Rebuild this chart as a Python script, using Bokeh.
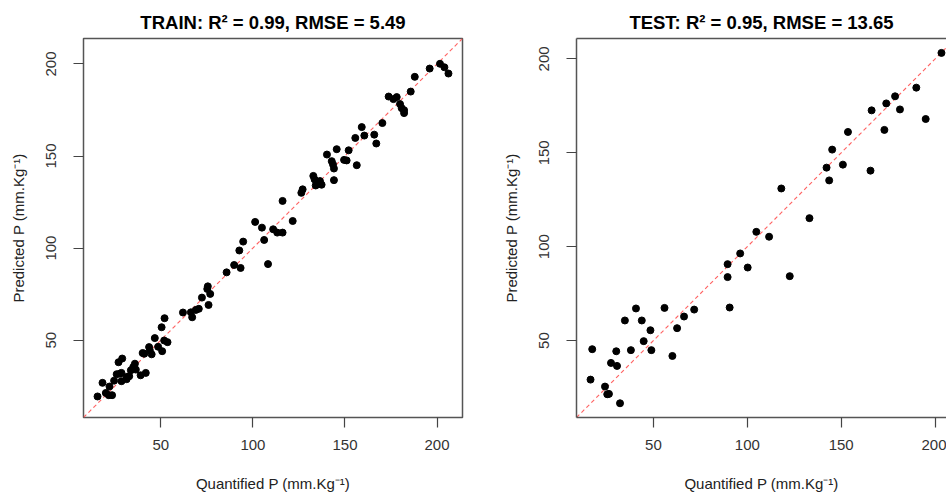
import numpy as np
from bokeh.plotting import figure
from bokeh.layouts import row
from bokeh.models import FixedTicker, Range1d, LinearAxis
from bokeh.embed import file_html
from bokeh.resources import INLINE

# ---- data ----
train_obs = [15.6, 18.3, 20.1, 22.1, 21.7, 23.5, 24.6, 26.0, 27.0, 29.0,
             27.7, 28.6, 28.6, 31.4, 31.4, 32.8, 33.7, 35.0, 36.4, 35.9,
             39.0, 41.8, 40.1, 41.0, 43.6, 44.0, 45.0, 46.7, 48.5, 50.7,
             50.4, 52.0, 51.8, 53.6, 62.0, 66.3, 67.0, 69.0, 70.6, 72.3,
             75.2, 75.5, 76.8, 75.9, 85.7, 89.8, 92.6, 93.3, 94.7, 101.2,
             104.9, 106.1, 108.2, 111.0, 113.2, 116.1, 116.1, 121.6, 126.3, 127.0,
             132.8, 133.5, 134.1, 136.4, 137.3, 140.2, 142.8, 143.5, 144.0, 144.0,
             145.5, 149.5, 150.9, 152.0, 156.4, 155.6, 159.1, 160.5, 165.9, 167.0,
             170.3, 173.7, 176.3, 178.1, 179.9, 180.8, 182.1, 182.1, 185.7, 187.9,
             196.0, 201.6, 204.0, 206.2]
train_pred = [19.4, 26.8, 21.3, 24.8, 20.1, 20.1, 28.0, 31.5, 38.0, 40.0,
              31.8, 27.7, 32.2, 30.0, 28.8, 30.4, 33.6, 35.4, 34.0, 37.2,
              30.9, 32.2, 43.0, 42.6, 46.2, 44.4, 42.3, 51.1, 46.4, 44.0,
              57.0, 61.9, 49.8, 48.9, 65.0, 65.1, 62.4, 66.4, 67.0, 73.1,
              77.8, 79.2, 75.1, 69.1, 86.8, 90.8, 98.7, 89.2, 103.5, 114.2,
              111.1, 104.4, 91.3, 110.2, 108.4, 108.4, 125.6, 114.7, 130.0, 131.9,
              139.2, 137.3, 134.0, 136.4, 134.4, 150.8, 147.2, 145.4, 143.2, 136.9,
              153.7, 147.9, 147.6, 153.1, 145.0, 159.8, 165.7, 161.1, 161.6, 156.8,
              167.9, 182.3, 180.9, 182.0, 178.2, 176.0, 174.9, 173.3, 185.0, 193.0,
              197.5, 200.1, 198.2, 194.8]

test_obs = [16.5, 17.4, 24.2, 25.4, 26.3, 27.4, 30.2, 30.6, 32.2, 34.8,
            38.0, 40.7, 43.8, 44.8, 48.4, 48.9, 55.9, 60.1, 62.6, 66.3,
            71.7, 89.5, 89.5, 90.6, 96.2, 100.2, 104.8, 111.6, 118.1, 122.6,
            133.1, 142.2, 143.6, 145.2, 150.9, 153.6, 165.6, 166.2, 173.0, 174.0,
            178.7, 181.3, 190.0, 195.0, 203.4]
test_pred = [29.2, 45.4, 25.5, 21.4, 21.6, 38.1, 44.3, 36.5, 16.6, 60.7,
             44.9, 67.1, 60.7, 49.7, 55.5, 44.9, 67.4, 41.8, 56.6, 62.8,
             66.5, 90.7, 83.8, 67.6, 96.4, 88.9, 107.9, 105.3, 131.0, 84.3,
             115.2, 142.1, 135.3, 151.7, 143.7, 161.1, 140.5, 172.6, 162.2, 176.3,
             180.1, 173.1, 184.7, 168.0, 203.2]

tick_values = [50, 100, 150, 200]
train_title = "TRAIN: R\u00b2 = 0.99, RMSE = 5.49"
test_title = "TEST: R\u00b2 = 0.95, RMSE = 13.65"
x_label = "Quantified P (mm.Kg\u207b\u00b9)"
y_label = "Predicted P (mm.Kg\u207b\u00b9)"

FONT = "Liberation Sans"
FRAME = 379
HEIGHT = 494
BOX = "#555555"
DASH_ON_PX, DASH_OFF_PX = 4.0, 3.0


def lims(obs, pred):
    lo = min(min(obs), min(pred))
    hi = max(max(obs), max(pred))
    d = (hi - lo) * 0.04
    return lo - d, hi + d


def make_panel(obs, pred, title, width, b_left, b_right, clip_right):
    lo, hi = lims(obs, pred)
    frame_w = width - b_left - b_right
    x_hi = lo + (hi - lo) * frame_w / FRAME
    p = figure(width=width, height=HEIGHT, output_backend="svg", toolbar_location=None,
               x_range=Range1d(lo, x_hi), y_range=Range1d(lo, hi),
               min_border_left=b_left, min_border_right=b_right,
               min_border_top=38, min_border_bottom=HEIGHT - 38 - FRAME)
    p.grid.visible = False
    p.background_fill_color = "white"
    p.border_fill_color = "white"
    p.title.text = title
    p.title.align = "center"
    p.title.text_font = FONT
    p.title.text_font_size = "18.5px"
    p.title.text_font_style = "bold"
    p.title.text_color = "#000000"
    p.title.standoff = 11

    for ax in (p.xaxis[0], p.yaxis[0]):
        ax.ticker = FixedTicker(ticks=tick_values)
        ax.minor_tick_line_color = None
        ax.major_tick_in = 0
        ax.major_tick_out = 10
        ax.major_tick_line_color = "#444444"
        ax.major_tick_line_width = 1.2
        ax.major_label_text_font = FONT
        ax.major_label_text_font_size = "15px"
        ax.major_label_text_color = "#333333"
        ax.axis_label_text_font = FONT
        ax.axis_label_text_font_size = "15px"
        ax.axis_label_text_font_style = "normal"
        ax.axis_label_text_color = "#222222"
    p.xaxis.axis_label = x_label
    p.yaxis.axis_label = y_label
    p.xaxis.major_label_standoff = 12
    p.xaxis.axis_label_standoff = 22
    p.yaxis.major_label_orientation = "parallel"
    p.yaxis.major_label_standoff = 17
    p.yaxis.axis_label_standoff = 17

    # dashed 1:1 line over the axis limits, built as short segments
    px_per_unit = FRAME / (hi - lo)
    step_on = DASH_ON_PX / (px_per_unit * np.sqrt(2))
    step = (DASH_ON_PX + DASH_OFF_PX) / (px_per_unit * np.sqrt(2))
    starts = np.arange(lo, hi, step)
    ends = np.minimum(starts + step_on, hi)
    xs = [[a, b] for a, b in zip(starts, ends)]
    p.multi_line(xs, xs, line_color="#ff6060", line_width=1.1)

    p.scatter(obs, pred, size=7, color="black", line_color="black")

    if clip_right:
        # box drawn on left, bottom and top only (right side is off-page)
        p.outline_line_color = None
        p.xaxis.axis_line_color = BOX
        p.yaxis.axis_line_color = BOX
        p.xaxis.axis_line_width = 1.5
        p.yaxis.axis_line_width = 1.5
        top = LinearAxis(ticker=FixedTicker(ticks=[]), major_label_text_font_size="0px",
                         major_tick_line_color=None, minor_tick_line_color=None,
                         axis_line_color=BOX, axis_line_width=1.5)
        p.add_layout(top, "above")
    else:
        p.outline_line_color = BOX
        p.outline_line_width = 1.5
        p.outline_line_alpha = 1.0
        p.xaxis.axis_line_color = None
        p.yaxis.axis_line_color = None
    return p


p1 = make_panel(train_obs, train_pred, train_title, 488, 83, 26, False)
p2 = make_panel(test_obs, test_pred, test_title, 458, 88, 0, True)

layout = row(p1, p2, spacing=0)
open("out.html", "w").write(file_html(layout, INLINE))
